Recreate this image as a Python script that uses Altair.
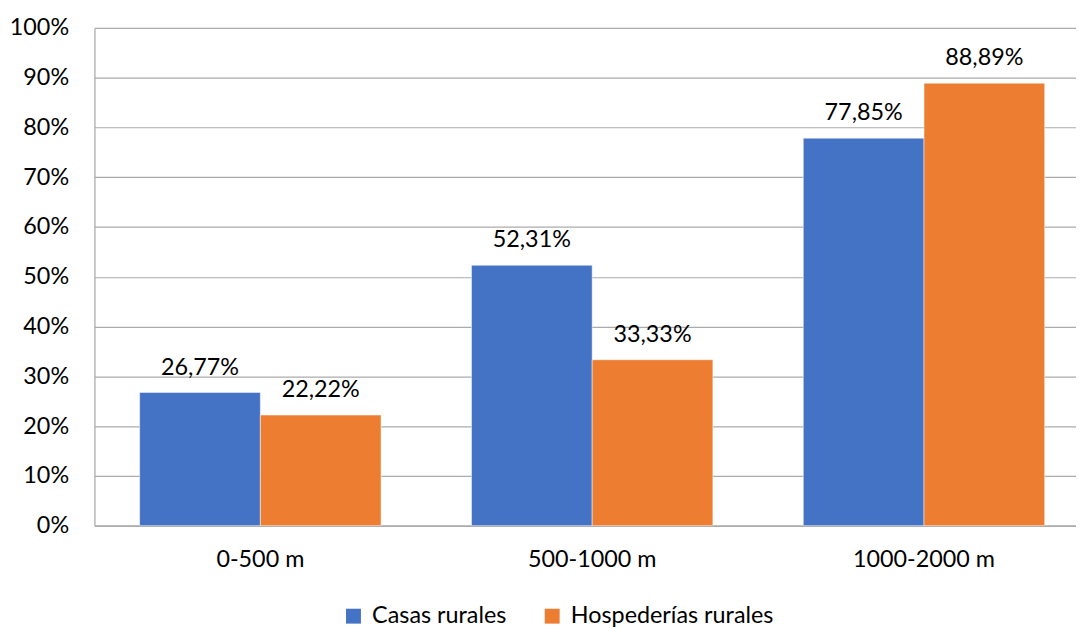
import altair as alt
import pandas as pd

categories = ["0-500 m", "500-1000 m", "1000-2000 m"]
series = ["Casas rurales", "Hospederías rurales"]
casas = [26.77, 52.31, 77.85]
hospederias = [22.22, 33.33, 88.89]
y_ticks = [0, 10, 20, 30, 40, 50, 60, 70, 80, 90, 100]
colors = ["#4472C4", "#ED7D31"]

rows = []
for i, c in enumerate(categories):
    for s, vals in zip(series, [casas, hospederias]):
        v = vals[i]
        rows.append({"cat": c, "serie": s, "val": v,
                     "lab": f"{v:.2f}".replace(".", ",") + "%"})
df = pd.DataFrame(rows)

FONT = "Lato"
FS = 23.5

x_enc = alt.X("cat:N", sort=categories,
              scale=alt.Scale(paddingInner=0.2725, paddingOuter=0.13625),
              axis=alt.Axis(title=None, labelAngle=0, ticks=False, labelPadding=22,
                            labelFont=FONT, labelFontSize=FS, labelColor="#000000",
                            domainColor="#A6A6A6", domainWidth=1.2, grid=False))
xo_enc = alt.XOffset("serie:N", sort=series, scale=alt.Scale(paddingInner=0, paddingOuter=0))
y_enc = alt.Y("val:Q", scale=alt.Scale(domain=[0, 100], nice=False),
              axis=alt.Axis(title=None, values=y_ticks, labelExpr="datum.value + '%'",
                            ticks=False, labelPadding=26, labelFont=FONT, labelFontSize=FS,
                            labelColor="#000000", grid=True, gridColor="#ABABAB",
                            gridWidth=1.2, domainColor="#A6A6A6", domainWidth=1.2))

bars = alt.Chart(df).mark_bar(stroke="white", strokeWidth=0.5).encode(
    x=x_enc, xOffset=xo_enc, y=y_enc,
    color=alt.Color("serie:N", sort=series,
                    scale=alt.Scale(domain=series, range=colors),
                    legend=alt.Legend(title=None, orient="none", direction="horizontal",
                                      legendX=249, legendY=580, symbolType="square",
                                      symbolSize=225, symbolStrokeWidth=0, labelOffset=7,
                                      columnPadding=34, labelFont=FONT, labelFontSize=FS,
                                      labelColor="#000000", labelLimit=0, padding=0)),
)

texts = alt.Chart(df).mark_text(dy=-18, baseline="alphabetic", font=FONT, fontSize=FS,
                                color="#000000").encode(
    x=alt.X("cat:N", sort=categories), xOffset=alt.XOffset("serie:N", sort=series),
    y=alt.Y("val:Q"), text="lab:N")

chart = alt.layer(bars, texts).properties(
    width=1002, height=501,
    autosize=alt.AutoSizeParams(type="none"),
    padding={"left": 87, "top": 18, "right": -14, "bottom": 101},
).configure_view(stroke=None)

chart.save("out.html", embed_options={"renderer": "svg", "actions": False})
